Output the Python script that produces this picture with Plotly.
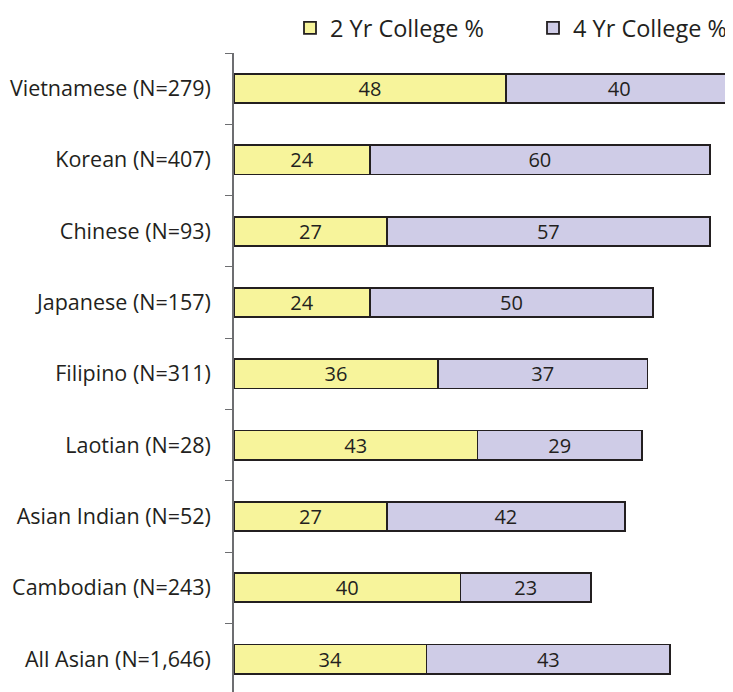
import plotly.graph_objects as go

categories = ["Vietnamese (N=279)", "Korean (N=407)", "Chinese (N=93)", "Japanese (N=157)",
              "Filipino (N=311)", "Laotian (N=28)", "Asian Indian (N=52)", "Cambodian (N=243)",
              "All Asian (N=1,646)"]
two_yr = [48, 24, 27, 24, 36, 43, 27, 40, 34]
four_yr = [40, 60, 57, 50, 37, 29, 42, 23, 43]

pos = list(range(len(categories)))
bounds = [p - 0.5 for p in pos]

FONT = "Open Sans"
TXT = "#231F20"
LINE = "#231F20"

W, H = 725, 684
fig = go.Figure()
fig.add_trace(go.Bar(
    y=pos, x=two_yr, orientation="h", name="2 Yr College %",
    marker=dict(color="#F7F49B", line=dict(color=LINE, width=1.8)),
    text=two_yr, textposition="inside", insidetextanchor="middle", textangle=0,
    insidetextfont=dict(family=FONT, size=20, color=TXT), width=0.41,
))
fig.add_trace(go.Bar(
    y=pos, x=four_yr, orientation="h", name="4 Yr College %",
    marker=dict(color="#CFCCE7", line=dict(color=LINE, width=1.8)),
    text=four_yr, textposition="inside", insidetextanchor="middle", textangle=0,
    insidetextfont=dict(family=FONT, size=20, color=TXT), width=0.41,
))
# invisible trace to host the boundary ticks on the overlay axis
fig.add_trace(go.Scatter(y=bounds, x=[0] * len(bounds), yaxis="y2", mode="markers",
                         marker=dict(opacity=0), showlegend=False, hoverinfo="skip"))

yrange = [-0.5 + 639 / 71.3, -0.5]
fig.update_layout(
    width=W, height=H,
    barmode="stack",
    paper_bgcolor="white", plot_bgcolor="white",
    margin=dict(l=226, r=0, t=45, b=0),
    font=dict(family=FONT, size=21, color=TXT),
    uniformtext=dict(minsize=20, mode="show"),
    xaxis=dict(range=[0, 88.1], visible=False, fixedrange=True),
    yaxis=dict(range=yrange, tickvals=pos, ticktext=categories, ticks="outside",
               ticklen=8, tickcolor="rgba(0,0,0,0)", ticklabelstandoff=9,
               showline=True, linecolor="#6D6E71", linewidth=1.5, showgrid=False,
               zeroline=False, tickfont=dict(family=FONT, size=21.5, color=TXT)),
    yaxis2=dict(range=yrange, overlaying="y", side="left", tickvals=bounds,
                ticktext=["" for _ in bounds], ticks="outside", ticklen=8,
                tickcolor="#6D6E71", tickwidth=1.2, showgrid=False, zeroline=False,
                showline=False),
    legend=dict(orientation="h", xref="container", yref="container", traceorder="normal",
                x=282 / W, y=1 - 20 / H, xanchor="left", yanchor="middle",
                font=dict(family=FONT, size=23.5, color=TXT), entrywidth=198,
                bgcolor="rgba(0,0,0,0)"),
    showlegend=True,
)
fig.write_html("out.html")
